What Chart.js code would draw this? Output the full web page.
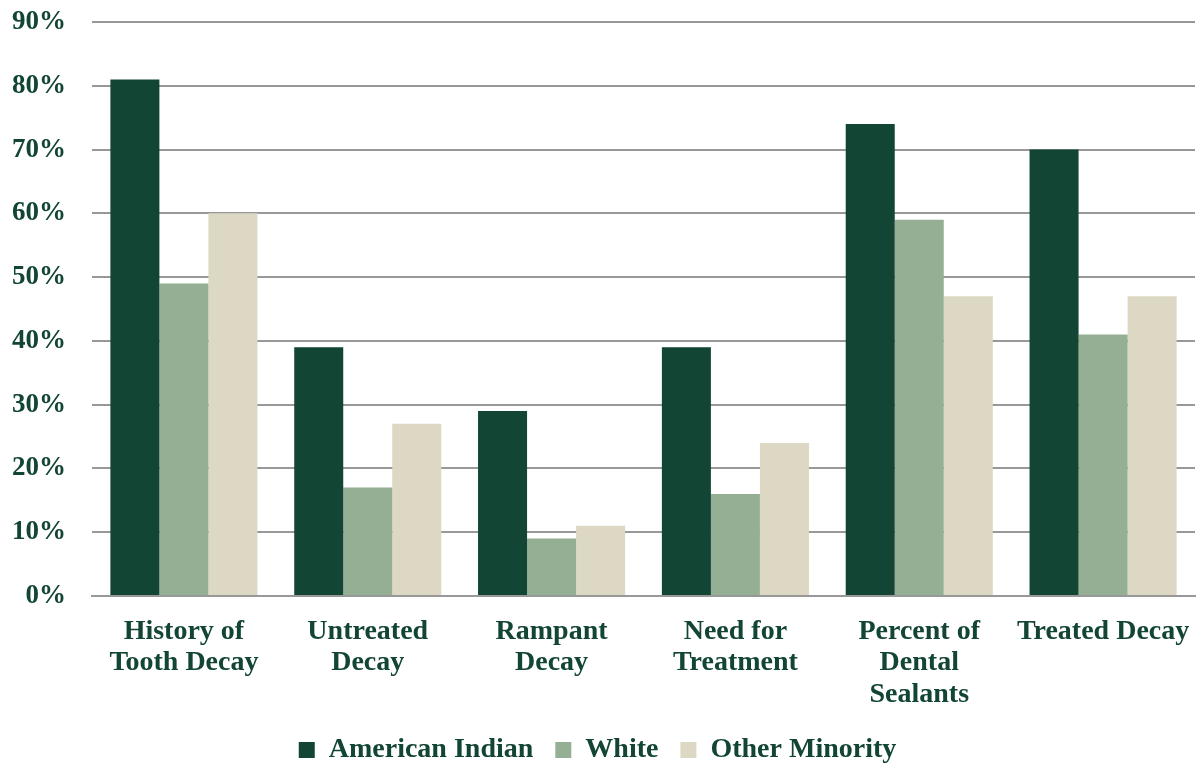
<!DOCTYPE html>
<html>
<head>
<meta charset="utf-8">
<script src="https://cdn.jsdelivr.net/npm/chart.js@4.4.1/dist/chart.umd.min.js"></script>
<style>
  html, body { margin: 0; padding: 0; background: #ffffff; }
  #wrap { width: 1200px; height: 763px; position: relative; }
</style>
</head>
<body>
<div id="wrap"><canvas id="c"></canvas></div>
<script>
// Oral health indicators by group (percent)
const categories = [
  ["History of", "Tooth Decay"],
  ["Untreated", "Decay"],
  ["Rampant", "Decay"],
  ["Need for", "Treatment"],
  ["Percent of", "Dental", "Sealants"],
  "Treated Decay"
];
const seriesNames = ["American Indian", "White", "Other Minority"];
const americanIndian = [81, 39, 29, 39, 74, 70];
const white = [49, 17, 9, 16, 59, 41];
const otherMinority = [60, 27, 11, 24, 47, 47];
const yTicks = [0, 10, 20, 30, 40, 50, 60, 70, 80, 90];

const colors = ["#124534", "#94AF94", "#DDD8C3"];
const textColor = "#124534";
const gridColor = "#989898";
const fontFamily = "'Liberation Serif', 'Times New Roman', serif";

new Chart(document.getElementById("c"), {
  type: "bar",
  data: {
    labels: categories,
    datasets: [americanIndian, white, otherMinority].map((d, i) => ({
      label: seriesNames[i],
      data: d,
      backgroundColor: colors[i],
      borderWidth: 0,
      categoryPercentage: 0.8,
      barPercentage: 1.0
    }))
  },
  options: {
    responsive: true,
    maintainAspectRatio: false,
    animation: false,
    layout: { padding: { left: 0, right: 5, top: 22, bottom: -11 } },
    plugins: {
      tooltip: { enabled: false },
      legend: {
        position: "bottom",
        labels: {
          color: textColor,
          font: { family: fontFamily, size: 28, weight: "bold" },
          boxWidth: 16,
          boxHeight: 16,
          padding: 22
        }
      }
    },
    scales: {
      x: {
        grid: { display: false },
        border: { display: true, color: gridColor, width: 2 },
        ticks: {
          color: textColor,
          font: { family: fontFamily, size: 28, weight: "bold", lineHeight: 1.12 },
          maxRotation: 0,
          autoSkip: false,
          padding: 12
        },
        afterFit: (scale) => {
          scale.height = 118;
          scale.paddingLeft = 0;
          scale.paddingRight = 0;
        }
      },
      y: {
        min: 0,
        max: 90,
        afterBuildTicks: (scale) => { scale.ticks = yTicks.map(v => ({ value: v })); },
        afterFit: (scale) => {
          scale.width = 92;
          scale.paddingTop = 0;
          scale.paddingBottom = 0;
        },
        grid: { color: gridColor, lineWidth: 2, drawTicks: false },
        border: { display: false },
        ticks: {
          color: textColor,
          font: { family: fontFamily, size: 27, weight: "bold" },
          padding: 26,
          callback: (v) => v + "%"
        }
      }
    }
  }
});
</script>
</body>
</html>
